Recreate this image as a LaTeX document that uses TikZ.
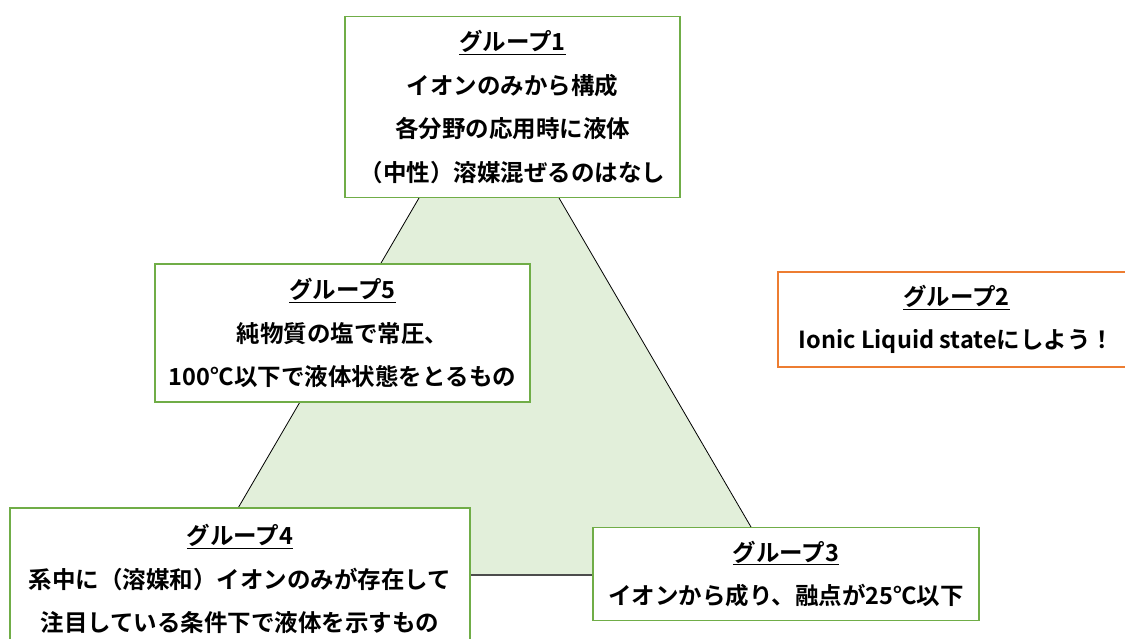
\documentclass[tikz,border=0pt]{standalone}
\usepackage{fontspec}
\newfontfamily\jp{Noto Sans CJK JP}[UprightFont={* Bold}]
\definecolor{boxgreen}{HTML}{70AD47}
\definecolor{boxorange}{HTML}{ED7D31}
\definecolor{trifill}{HTML}{E2EFDA}
\tikzset{
  grpbox/.style={draw=boxgreen, line width=1.6pt, fill=white, rectangle, align=center,
    inner sep=0pt, font={\jp\fontsize{23.5pt}{43.5pt}\selectfont}},
  edge/.style={draw=black, line width=0.8pt},
}
\begin{document}
\begin{tikzpicture}[x=1pt,y=-1pt]
\useasboundingbox (0,0) rectangle (1125,639);
\clip (0,0) rectangle (1125,639);
\coordinate (A) at (489,78);
\coordinate (B) at (199,575);
\coordinate (C) at (779,575);
\fill[trifill] (A) -- (B) -- (C) -- cycle;
\draw[edge] (A) -- (B);
\draw[edge] (A) -- (C);
\draw[draw=black!70, line width=1.6pt] (B) -- (C);

\node[grpbox, minimum width=335pt, minimum height=181pt] (g1) at (512.5,107)
  {\underline{グループ1}\\イオンのみから構成\\各分野の応用時に液体\\（中性）溶媒混ぜるのはなし};
\node[grpbox, minimum width=375pt, minimum height=138pt] (g5) at (342.5,333)
  {\underline{グループ5}\\純物質の塩で常圧、\\100℃以下で液体状態をとるもの};
\node[grpbox, draw=boxorange, minimum width=357pt, minimum height=95pt] (g2) at (956.5,319.5)
  {\underline{グループ2}\\Ionic Liquid stateにしよう！};
\node[grpbox, minimum width=460pt, minimum height=142pt] (g4) at (240,579)
  {\underline{グループ4}\\系中に（溶媒和）イオンのみが存在して\\注目している条件下で液体を示すもの};
\node[grpbox, minimum width=386pt, minimum height=93pt] (g3) at (786,574)
  {\underline{グループ3}\\イオンから成り、融点が25℃以下};
\end{tikzpicture}
\end{document}
